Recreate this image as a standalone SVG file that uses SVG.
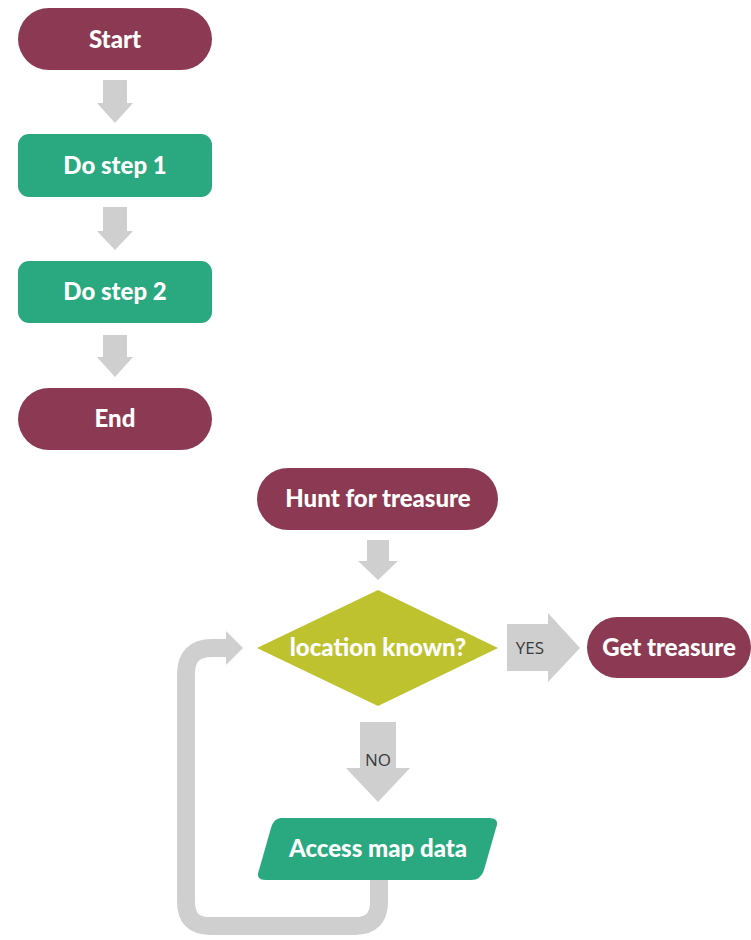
<svg xmlns="http://www.w3.org/2000/svg" width="751" height="940" viewBox="0 0 751 940">
<style>
.term{fill:#8c3a53}
.proc{fill:#2aa880}
.dec{fill:#bec22f}
.arr{fill:#cfcfcf}
.loop{fill:none;stroke:#cfcfcf;stroke-width:18}
.t{font-family:Lato,"Liberation Sans",sans-serif;font-weight:900;font-size:24px;fill:#ffffff;text-anchor:middle}
.lbl{font-family:"Open Sans","Liberation Sans",sans-serif;font-size:17px;fill:#3a3a3a;text-anchor:middle}
</style>
<rect width="751" height="940" fill="#ffffff"/>
<g id="connectors">
<polygon class="arr" points="103,80 127,80 127,103 133,103 115,123 97,103 103,103"/>
<polygon class="arr" points="103,207 127,207 127,231 133,231 115,250 97,231 103,231"/>
<polygon class="arr" points="103,335 127,335 127,357 133,357 115,377 97,357 103,357"/>
<polygon class="arr" points="367,540 389,540 389,561 398,561 378,580 358,561 367,561"/>
<g id="yes">
<polygon class="arr" points="507,624 548,624 548,613 580,648 548,682 548,671 507,671"/>
<text class="lbl" x="530" y="654">YES</text>
</g>
<g id="no">
<polygon class="arr" points="360,722 396,722 396,768 410,768 378,802 346,768 360,768"/>
<text class="lbl" x="378" y="766">NO</text>
</g>
<g id="loop">
<path class="loop" d="M379,880 V902 Q379,926 355,926 H210 Q186,926 186,902 V674 Q186,648 212,648 H228"/>
<polygon class="arr" points="226,631 243,648 226,665"/>
</g>
</g>
<g id="start">
<rect class="term" x="18" y="8" width="194" height="62" rx="31"/>
<text class="t" x="115" y="48">Start</text>
</g>
<g id="step1">
<rect class="proc" x="18" y="134" width="194" height="63" rx="11"/>
<text class="t" x="115" y="174">Do step 1</text>
</g>
<g id="step2">
<rect class="proc" x="18" y="261" width="194" height="62" rx="11"/>
<text class="t" x="115" y="300">Do step 2</text>
</g>
<g id="end">
<rect class="term" x="18" y="388" width="194" height="62" rx="31"/>
<text class="t" x="115" y="427">End</text>
</g>
<g id="hunt">
<rect class="term" x="257" y="468" width="241" height="62" rx="31"/>
<text class="t" x="378" y="507">Hunt for treasure</text>
</g>
<g id="decision">
<polygon class="dec" points="257,648 378,590 498,648 378,706"/>
<text class="t" x="378" y="656">location known?</text>
</g>
<g id="get">
<rect class="term" x="587" y="617" width="164" height="61" rx="30.5"/>
<text class="t" x="669" y="656">Get treasure</text>
</g>
<g id="access">
<path class="proc" d="M281,818 H489 Q500,818 496,828 L484,870 Q481,880 471,880 H266 Q255,880 259,870 L271,828 Q274,818 281,818 Z"/>
<text class="t" x="378" y="857">Access map data</text>
</g>
</svg>
